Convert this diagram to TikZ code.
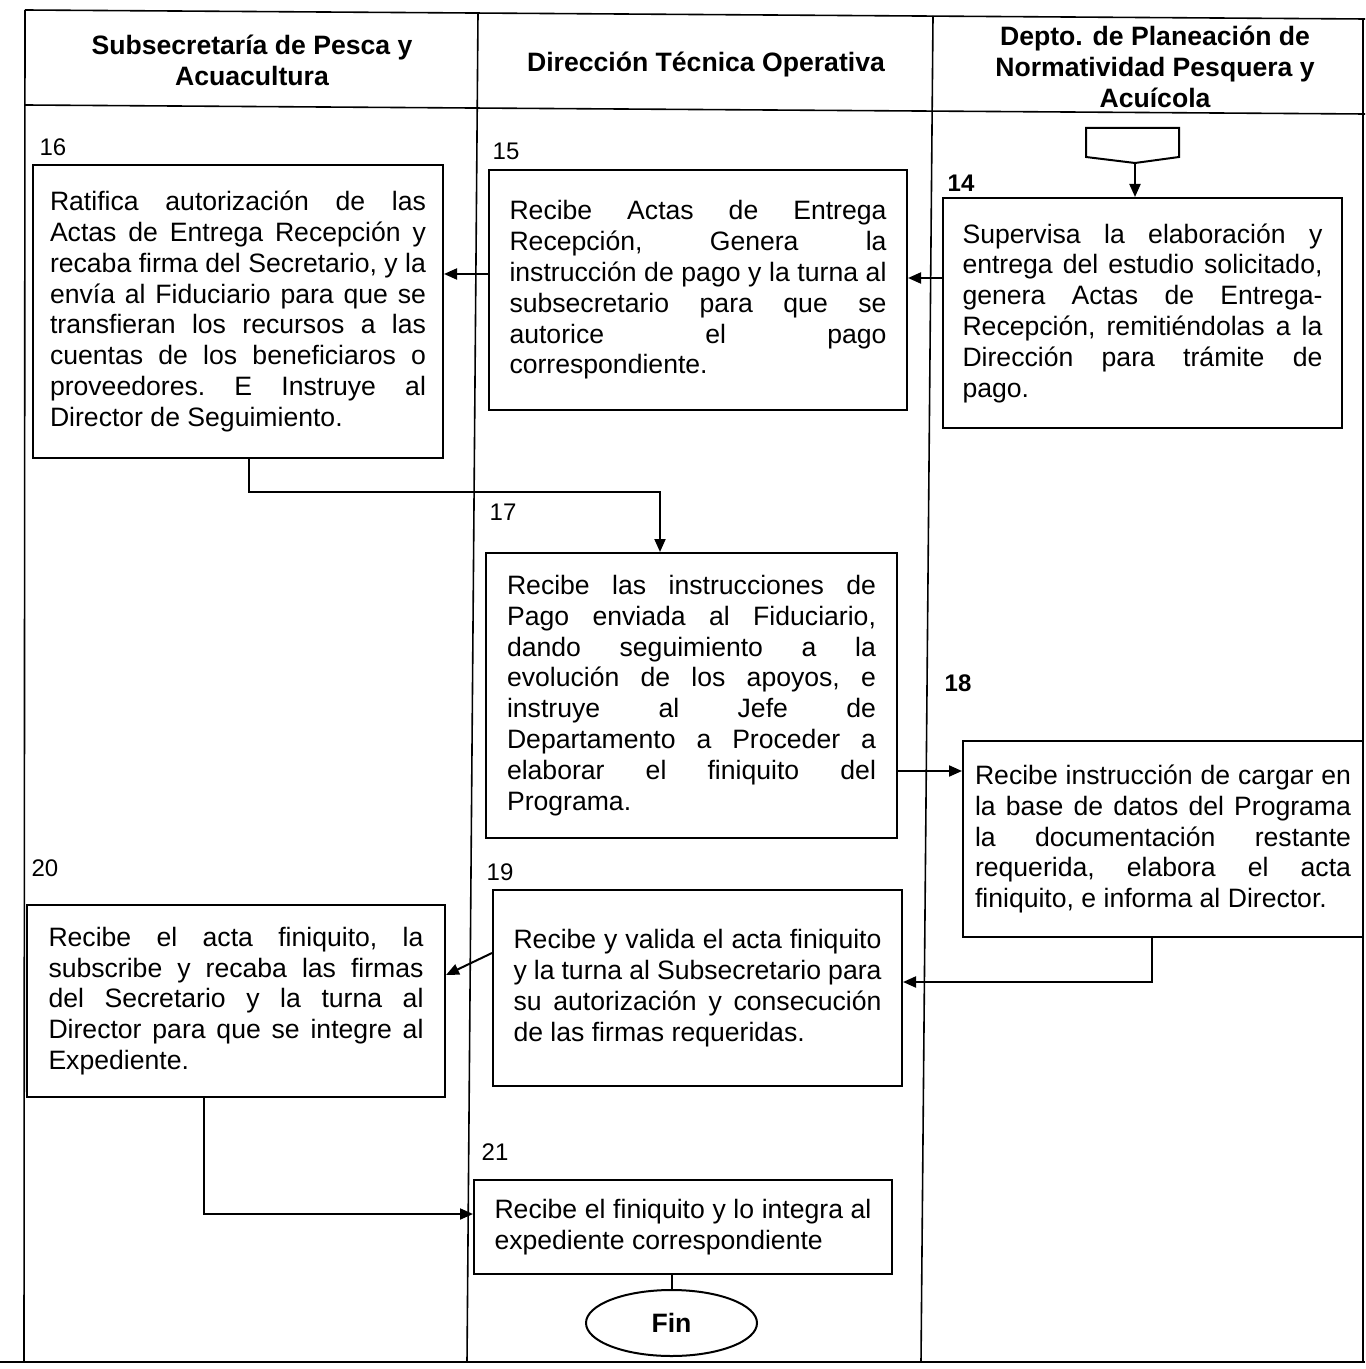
\documentclass[tikz,border=0pt]{standalone}
\usepackage{fontspec}
\setmainfont{Liberation Sans}
\usetikzlibrary{arrows.meta,shapes.geometric,calc}

% text settings for the process boxes
\newcommand\bodyfont{\fontsize{13.3}{15.4}\selectfont\frenchspacing
  \tolerance=10000 \hyphenpenalty=10000 \exhyphenpenalty=10000}
\newcommand\headfont{\fontsize{13.3}{15.4}\selectfont\bfseries}
\newcommand\numfont{\fontsize{12}{13}\selectfont}

\begin{document}
\begin{tikzpicture}[x=0.5pt,y=-0.5pt,
  lane/.style={line width=0.8pt},
  proc/.style={draw,line width=1pt,rectangle,inner sep=0pt,align=justify,font=\bodyfont},
  num/.style={font=\numfont,inner sep=0pt},
  head/.style={font=\headfont,align=center,inner sep=0pt},
  arr/.style={line width=1pt,-{Triangle[length=6.5pt,width=5.5pt]}},
  link/.style={line width=1pt}]

\useasboundingbox (0,0) rectangle (1365,1369);
\fill[white] (0,0) rectangle (1365,1369);

% swim-lane frame
\draw[lane] (25,10) -- (1365,19);
\draw[lane] (25,105) -- (1365,114);
\draw[lane] (25,10) -- (24,1362);
\draw[lane] (0,1362) -- (1365,1362);
\draw[lane] (1363,19) -- (1363,1362);
\draw[lane] (478,13) -- (467,1362);
\draw[lane] (933,16) -- (921,1362);

% lane titles
\node[head] (h1) at (252,60) {Subsecretaría de Pesca y\\Acuacultura};
\node[head] (h2) at (706,65) {Dirección Técnica Operativa};
\node[head] (h3) at (1155,67) {Depto. de Planeación de\\Normatividad Pesquera y\\Acuícola};

% off-page connector
\draw[line width=1pt] (1086,128) -- (1179,128) -- (1179,157) -- (1135,163) -- (1086,157) -- cycle;
\coordinate (offp) at (1135,163);

% process boxes
\node[proc,minimum width=205pt,minimum height=146.5pt,text width=188pt] (b16) at (238,311.5)
 {Ratifica autorización de las\linebreak Actas de Entrega Recepción y\linebreak recaba firma del Secretario, y la\linebreak envía al Fiduciario para que se\linebreak transfieran los recursos a las\linebreak cuentas de los beneficiaros o\linebreak proveedores. E Instruye al\linebreak Director de Seguimiento.};

\node[proc,minimum width=209pt,minimum height=120pt,text width=188.5pt] (b15) at (698,290)
 {Recibe Actas de Entrega\linebreak Recepción, Genera la\linebreak instrucción de pago y la turna al\linebreak subsecretario para que se\linebreak autorice el pago\linebreak correspondiente.};

\node[proc,minimum width=199.5pt,minimum height=115pt,text width=180pt] (b14) at (1142.5,313)
 {Supervisa la elaboración y\linebreak entrega del estudio solicitado,\linebreak genera Actas de Entrega-\linebreak Recepción, remitiéndolas a la\linebreak Dirección para trámite de\linebreak pago.};

\node[proc,minimum width=205.5pt,minimum height=142.5pt,text width=184.5pt] (b17) at (691.5,695.5)
 {Recibe las instrucciones de\linebreak Pago enviada al Fiduciario,\linebreak dando seguimiento a la\linebreak evolución de los apoyos, e\linebreak instruye al Jefe de\linebreak Departamento a Proceder a\linebreak elaborar el finiquito del\linebreak Programa.};

\node[proc,minimum width=200pt,minimum height=98pt,text width=188pt] (b18) at (1163,839)
 {Recibe instrucción de cargar en\linebreak la base de datos del Programa\linebreak la documentación restante\linebreak requerida, elabora el acta\linebreak finiquito, e informa al Director.};

\node[proc,minimum width=204.5pt,minimum height=98pt,text width=184pt] (b19) at (697.5,988)
 {Recibe y valida el acta finiquito\linebreak y la turna al Subsecretario para\linebreak su autorización y consecución\linebreak de las firmas requeridas.};

\node[proc,minimum width=209pt,minimum height=96pt,text width=187.5pt] (b20) at (236,1001)
 {Recibe el acta finiquito, la\linebreak subscribe y recaba las firmas\linebreak del Secretario y la turna al\linebreak Director para que se integre al\linebreak Expediente.};

\node[proc,minimum width=209pt,minimum height=47pt,text width=188.5pt] (b21) at (683,1227)
 {Recibe el finiquito y lo integra al\linebreak expediente correspondiente};

\node[draw,line width=1pt,ellipse,minimum width=85.5pt,minimum height=33pt,inner sep=0pt,font=\headfont] (fin) at (671.5,1323) {Fin};

% step numbers
\node[num] (n16) at (53,147) {16};
\node[num] (n15) at (506,151) {15};
\node[num,font=\numfont\bfseries] (n14) at (961,183) {14};
\node[num] (n17) at (503,512) {17};
\node[num,font=\numfont\bfseries] (n18) at (958,683) {18};
\node[num] (n19) at (500,872) {19};
\node[num] (n20) at (45,868) {20};
\node[num] (n21) at (495,1152) {21};

% connectors
\draw[arr] (offp) -- (b14.north -| offp);
\draw[arr] (b14.west |- 0,278) -- (b15.east |- 0,278);
\draw[arr] (b15.west |- 0,274) -- (b16.east |- 0,274);
\draw[arr] (b16.south -| 249,0) -- (249,492) -| (b17.north -| 660,0);
\draw[arr] (b17.east |- 0,771) -- (b18.west |- 0,771);
\draw[arr] (b18.south -| 1152,0) |- (b19.east |- 0,982);
\draw[arr] (b19.west |- 0,953) -- (b20.east |- 0,975);
\draw[arr] (b20.south -| 204,0) |- (b21.west |- 0,1214);
\draw[link] (b21.south -| fin.north) -- (fin.north);

\end{tikzpicture}
\end{document}
